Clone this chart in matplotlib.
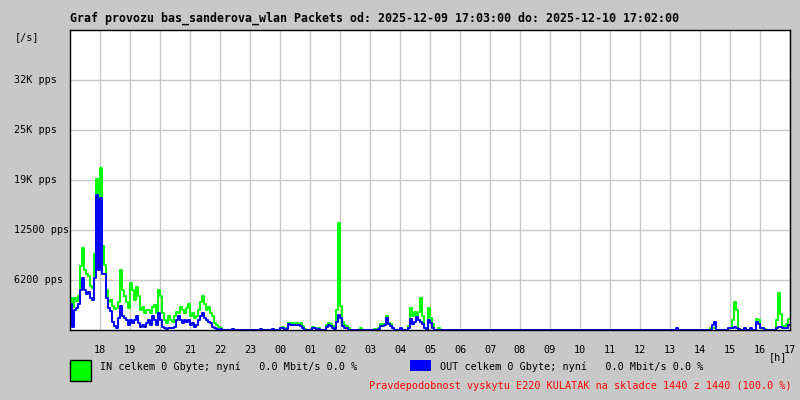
# -*- coding: utf-8 -*-
# graf provozu - packets / s, IN (zelena) a OUT (modra)
import matplotlib
matplotlib.use("Agg")
import matplotlib.pyplot as plt
import numpy as np

# vzorky po 4 minutach, jeden radek = jedna hodina (od 17:00)
in_pps = [
    [4000, 2900, 4000, 3600, 4200, 8000, 10200, 7500, 7000, 6800, 5500, 5200, 9500, 18900, 11000],  # 17
    [20300, 10500, 8100, 5000, 3500, 3800, 3000, 2600, 2800, 3500, 7500, 5000, 4200, 3500, 2800],  # 18
    [5900, 5000, 3750, 5400, 4200, 2500, 2900, 2100, 2500, 2500, 2100, 2900, 3100, 2100, 5000],  # 19
    [4200, 2100, 1250, 850, 1700, 1250, 1000, 1700, 2300, 2100, 2900, 2500, 2100, 2700, 3300],  # 20
    [1700, 2100, 1500, 1700, 2500, 3500, 4200, 3300, 2500, 2900, 2100, 1700, 850, 600, 400],  # 21
    [300, 0, 0, 0, 0, 0, 150, 0, 0, 0, 0, 0, 0, 0, 0],  # 22
    [0, 0, 0, 0, 0, 100, 0, 0, 0, 0, 0, 100, 0, 0, 0],  # 23
    [300, 400, 0, 200, 900, 900, 850, 900, 900, 800, 850, 500, 100, 0, 0],  # 00
    [0, 400, 300, 0, 200, 0, 0, 0, 600, 900, 800, 500, 200, 2500, 13400],  # 01
    [3000, 1000, 600, 500, 300, 0, 0, 0, 0, 0, 300, 0, 0, 0, 0],  # 02
    [0, 0, 150, 0, 200, 700, 800, 800, 1750, 900, 700, 300, 0, 0, 0],  # 03
    [0, 0, 0, 0, 500, 2700, 1800, 2200, 1800, 2200, 4000, 1800, 300, 100, 2700],  # 04
    [1500, 800, 0, 0, 200, 0, 0, 0, 0, 0, 0, 0, 0, 0, 0],  # 05
    [0, 0, 0, 0, 0, 0, 0, 0, 0, 0, 0, 0, 0, 0, 0],  # 06
    [0, 0, 0, 0, 0, 0, 0, 0, 0, 0, 0, 0, 0, 0, 0],  # 07
    [0, 0, 0, 0, 0, 0, 0, 0, 0, 0, 0, 0, 0, 0, 0],  # 08
    [0, 0, 0, 0, 0, 0, 0, 0, 0, 0, 0, 0, 0, 0, 0],  # 09
    [0, 0, 0, 0, 0, 0, 0, 0, 0, 0, 0, 0, 0, 0, 0],  # 10
    [0, 0, 0, 0, 0, 0, 0, 0, 0, 0, 0, 0, 0, 0, 0],  # 11
    [0, 0, 0, 0, 0, 0, 0, 0, 0, 0, 0, 0, 0, 0, 0],  # 12
    [0, 0, 0, 0, 0, 0, 0, 0, 0, 0, 0, 0, 0, 0, 0],  # 13
    [0, 0, 0, 0, 0, 200, 300, 200, 0, 0, 0, 0, 0, 0, 200],  # 14
    [300, 1200, 3500, 2500, 100, 0, 0, 0, 0, 0, 0, 0, 0, 1400, 1200],  # 15
    [300, 200, 100, 0, 0, 0, 0, 0, 1200, 4600, 2000, 500, 500, 700, 1400],  # 16
]
out_pps = [
    [3300, 400, 2500, 2800, 3200, 5000, 6500, 5000, 4500, 4700, 4000, 3800, 6500, 16900, 7500],  # 17
    [16500, 7000, 7000, 4000, 2800, 2400, 1000, 500, 300, 1500, 3000, 1800, 1500, 1200, 600],  # 18
    [1250, 850, 1250, 1700, 850, 400, 600, 400, 850, 1250, 600, 1700, 1250, 600, 2100],  # 19
    [1250, 400, 200, 100, 200, 200, 200, 400, 1250, 1700, 1250, 850, 1250, 1000, 1250],  # 20
    [600, 850, 400, 600, 1250, 1700, 2100, 1500, 1250, 1000, 850, 400, 200, 100, 0],  # 21
    [100, 0, 0, 0, 0, 0, 100, 0, 0, 0, 0, 0, 0, 0, 0],  # 22
    [0, 0, 0, 0, 0, 100, 0, 0, 0, 0, 0, 100, 0, 0, 0],  # 23
    [200, 300, 0, 100, 700, 600, 600, 650, 650, 600, 500, 250, 0, 0, 0],  # 00
    [0, 300, 200, 0, 150, 0, 0, 0, 400, 600, 500, 300, 100, 1000, 1900],  # 01
    [1500, 500, 300, 300, 0, 0, 0, 0, 0, 0, 0, 0, 0, 0, 0],  # 02
    [0, 0, 0, 0, 100, 500, 500, 600, 1500, 700, 500, 200, 0, 0, 0],  # 03
    [200, 0, 0, 0, 300, 1400, 800, 1000, 1600, 1200, 1000, 800, 200, 100, 1200],  # 04
    [900, 300, 0, 0, 0, 0, 0, 0, 0, 0, 0, 0, 0, 0, 0],  # 05
    [0, 0, 0, 0, 0, 0, 0, 0, 0, 0, 0, 0, 0, 0, 0],  # 06
    [0, 0, 0, 0, 0, 0, 0, 0, 0, 0, 0, 0, 0, 0, 0],  # 07
    [0, 0, 0, 0, 0, 0, 0, 0, 0, 0, 0, 0, 0, 0, 0],  # 08
    [0, 0, 0, 0, 0, 0, 0, 0, 0, 0, 0, 0, 0, 0, 0],  # 09
    [0, 0, 0, 0, 0, 0, 0, 0, 0, 0, 0, 0, 0, 0, 0],  # 10
    [0, 0, 0, 0, 0, 0, 0, 0, 0, 0, 0, 0, 0, 0, 0],  # 11
    [0, 0, 0, 0, 0, 0, 0, 0, 0, 0, 0, 0, 0, 0, 0],  # 12
    [0, 0, 0, 200, 0, 0, 0, 0, 0, 0, 0, 0, 0, 0, 0],  # 13
    [0, 0, 0, 0, 0, 0, 600, 1000, 0, 0, 0, 0, 0, 0, 200],  # 14
    [300, 200, 400, 300, 100, 0, 0, 200, 0, 0, 200, 0, 0, 1000, 800],  # 15
    [200, 200, 0, 0, 0, 0, 0, 0, 300, 400, 400, 300, 300, 200, 600],  # 16
]

y_ticks = [6250, 12500, 18750, 25000, 31250]
y_labels = ["6200 pps", "12500 pps", "19K pps", "25K pps", "32K pps"]
x_hours = list(range(18, 42))
x_labels = ["%02d" % (h % 24) for h in x_hours]

title = "Graf provozu bas_sanderova_wlan Packets od: 2025-12-09 17:03:00 do: 2025-12-10 17:02:00"
in_text = "IN celkem 0 Gbyte; nyní   0.0 Mbit/s 0.0 %"
out_text = "OUT celkem 0 Gbyte; nyní   0.0 Mbit/s 0.0 %"
note = "Pravdepodobnost vyskytu E220 KULATAK na skladce 1440 z 1440 (100.0 %)"

bg = "#c8c8c8"
mono = "DejaVu Sans Mono"

inn = np.array(in_pps).ravel()
out = np.array(out_pps).ravel()
t = 17 + np.arange(len(inn) + 1) / 15.0
inn = np.append(inn, inn[-1])
out = np.append(out, out[-1])

fig = plt.figure(figsize=(8, 4), dpi=100, facecolor=bg)
ax = fig.add_axes([70 / 800, 70 / 400, 720 / 800, 300 / 400])
ax.set_facecolor("white")

ax.plot(t, inn, drawstyle="steps-post", color="#00ff00", lw=1.4, zorder=3)
ax.plot(t, out, drawstyle="steps-post", color="#0000ff", lw=1.4, zorder=4)

ax.set_xlim(17, 41)
ax.set_ylim(0, 37500)
ax.set_xticks(x_hours)
ax.set_xticklabels(x_labels, fontsize=7.3, family=mono)
ax.set_yticks(y_ticks)
ax.set_yticklabels([])
ax.tick_params(length=0, pad=11)
ax.grid(True, color="#c8c8c8", lw=1.0, zorder=1)
ax.set_axisbelow(True)
for s in ax.spines.values():
    s.set_color("black")
    s.set_linewidth(1.0)
    s.set_zorder(6)

# popisky osy y
for v, lab in zip(y_ticks, y_labels):
    yy = ax.transData.transform((17, v))[1]
    fig.text(14 / 800, yy / 400, lab, fontsize=7.3, family=mono, ha="left", va="center")
fig.text(15 / 800, 1 - 37 / 400, "[/s]", fontsize=7.3, family=mono, ha="left", va="center")
fig.text(787 / 800, 1 - 357 / 400, "[h]", fontsize=7.3, family=mono, ha="right", va="center")

fig.text(70 / 800, 1 - 18 / 400, title, fontsize=8.4, family=mono, weight="bold",
         ha="left", va="center")

# legenda
fig.patches.append(plt.Rectangle((70 / 800, 1 - 381 / 400), 21 / 800, 21 / 400,
                                 transform=fig.transFigure, facecolor="#00ff00",
                                 edgecolor="black", lw=1.0))
fig.text(100 / 800, 1 - 367 / 400, in_text, fontsize=7.3, family=mono, ha="left", va="center")
fig.patches.append(plt.Rectangle((410 / 800, 1 - 371 / 400), 21 / 800, 11 / 400,
                                 transform=fig.transFigure, facecolor="#0000ff",
                                 edgecolor="none"))
fig.text(440 / 800, 1 - 367 / 400, out_text, fontsize=7.3, family=mono, ha="left", va="center")
fig.text(792 / 800, 1 - 386 / 400, note, fontsize=7.3, family=mono, color="#ff0000",
         ha="right", va="center")

fig.savefig("out.png", dpi=100, facecolor=bg)
